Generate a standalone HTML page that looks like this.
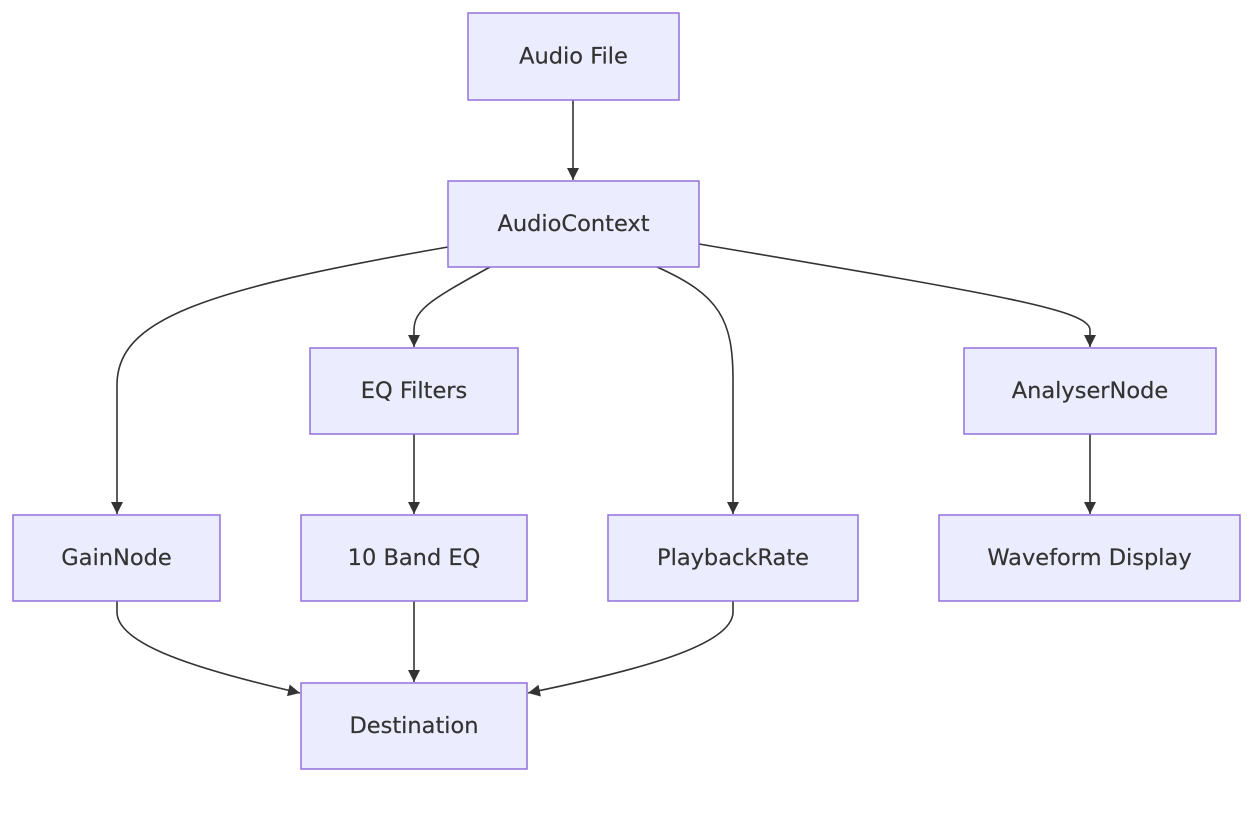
<!DOCTYPE html>
<html><head><meta charset="utf-8"><style>
html,body{margin:0;padding:0;background:#fff;}
svg{display:block;}
text{font-family:"DejaVu Sans","Liberation Sans",sans-serif;font-size:22.5px;fill:#333;text-anchor:middle;dominant-baseline:central;stroke:#333;stroke-width:0.2;}
rect{fill:#ECECFF;stroke:#9370DB;stroke-width:1.5;}
path.e{fill:none;stroke:#333;stroke-width:1.6;}
</style></head><body>
<svg width="1257" height="831" viewBox="0 0 1257 831" xmlns="http://www.w3.org/2000/svg">
<defs>
<marker id="b" viewBox="0 0 10 10" refX="10" refY="5" markerWidth="12" markerHeight="12" orient="auto" markerUnits="userSpaceOnUse"><path d="M0,0 L10,5 L0,10 z" fill="#333"/></marker></defs>
<path class="e" marker-end="url(#b)" d="M573,100 L573,180"/>
<path class="e" marker-end="url(#b)" d="M448,247 C200,290 117,320 117,385 L117,514"/>
<path class="e" marker-end="url(#b)" d="M490,267 C430,300 414,310 414,330 L414,347"/>
<path class="e" marker-end="url(#b)" d="M657,267 C720,295 733,320 733,380 L733,514"/>
<path class="e" marker-end="url(#b)" d="M699,244 C1000,295 1090,310 1090,330 L1090,347"/>
<path class="e" marker-end="url(#b)" d="M414,434 L414,514"/>
<path class="e" marker-end="url(#b)" d="M1090,434 L1090,514"/>
<path class="e" marker-end="url(#b)" d="M117,601 L117,612 C117,645 200,670 300,693"/>
<path class="e" marker-end="url(#b)" d="M414,601 L414,682"/>
<path class="e" marker-end="url(#b)" d="M733,601 L733,612 C733,645 640,670 528,693"/>
<rect x="468" y="13" width="211" height="87"/><text x="573.5" y="56.5">Audio File</text>
<rect x="448" y="181" width="251" height="86"/><text x="573.5" y="224">AudioContext</text>
<rect x="310" y="348" width="208" height="86"/><text x="414" y="391">EQ Filters</text>
<rect x="964" y="348" width="252" height="86"/><text x="1090" y="391">AnalyserNode</text>
<rect x="13" y="515" width="207" height="86"/><text x="116.5" y="558">GainNode</text>
<rect x="301" y="515" width="226" height="86"/><text x="414" y="558">10 Band EQ</text>
<rect x="608" y="515" width="250" height="86"/><text x="733" y="558">PlaybackRate</text>
<rect x="939" y="515" width="301" height="86"/><text x="1089.5" y="558">Waveform Display</text>
<rect x="301" y="683" width="226" height="86"/><text x="414" y="726">Destination</text>
</svg>
</body></html>
